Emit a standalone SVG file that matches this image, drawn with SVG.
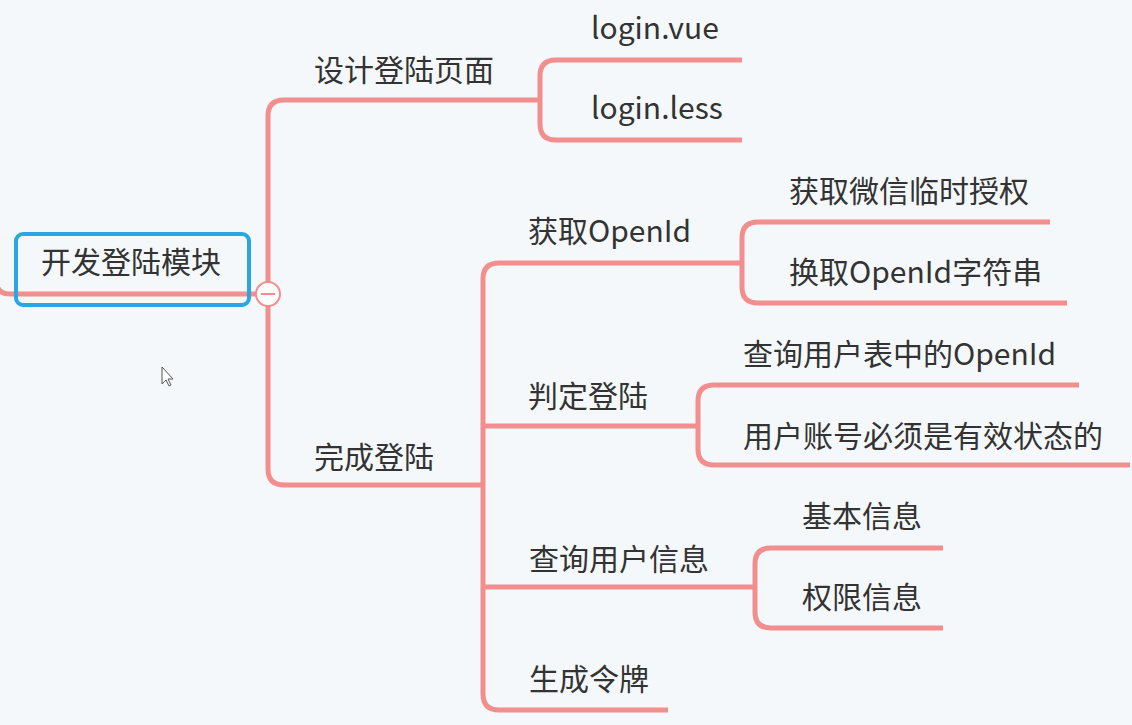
<svg xmlns="http://www.w3.org/2000/svg" width="1132" height="725" viewBox="0 0 1132 725">
<style>
.bg{fill:#f5f8fa}
.br{fill:none;stroke:#f28e8e;stroke-width:5;stroke-linecap:butt;stroke-linejoin:round}
.t{font-family:"Noto Sans CJK SC","Noto Sans",sans-serif;font-size:30px;fill:#333333}
.root{fill:none;stroke:#2aa7e3;stroke-width:4}
</style>
<rect class="bg" x="0" y="0" width="1132" height="725"/>
<g id="connectors">
<path class="br" d="M -4 240 V 280 Q -4 294 10 294 H 256"/>
<path class="br" d="M 268 282 V 116 Q 268 100 284 100 H 540"/>
<path class="br" d="M 268 306 V 469 Q 268 485 284 485 H 483"/>
<path class="br" d="M 742 60 H 556 Q 540 60 540 76 V 124 Q 540 140 556 140 H 742"/>
<path class="br" d="M 742 263 H 499 Q 483 263 483 279 V 694 Q 483 710 499 710 H 668"/>
<path class="br" d="M 483 426 H 698"/>
<path class="br" d="M 483 587 H 755"/>
<path class="br" d="M 1050 222 H 758 Q 742 222 742 238 V 287 Q 742 303 758 303 H 1067"/>
<path class="br" d="M 1079 385 H 714 Q 698 385 698 401 V 449 Q 698 465 714 465 H 1130"/>
<path class="br" d="M 943 548 H 771 Q 755 548 755 564 V 612 Q 755 628 771 628 H 943"/>
</g>
<g id="root">
<rect class="root" x="16" y="234" width="233" height="71" rx="7"/>
<text class="t" x="41" y="273">开发登陆模块</text>
</g>
<g id="collapse">
<circle cx="268" cy="294" r="12" fill="#ffffff" stroke="#f28e8e" stroke-width="2"/>
<line x1="261" y1="294" x2="275" y2="294" stroke="#f28e8e" stroke-width="2"/>
</g>
<g id="n-design"><text class="t" x="314" y="81">设计登陆页面</text></g>
<g id="n-loginvue"><text class="t" x="591" y="39">login.vue</text></g>
<g id="n-loginless"><text class="t" x="591" y="119">login.less</text></g>
<g id="n-finish"><text class="t" x="314" y="468">完成登陆</text></g>
<g id="n-openid"><text class="t" x="528" y="242">获取OpenId</text></g>
<g id="n-wxauth"><text class="t" x="789" y="202">获取微信临时授权</text></g>
<g id="n-openidstr"><text class="t" x="789" y="283">换取OpenId字符串</text></g>
<g id="n-judge"><text class="t" x="528" y="407">判定登陆</text></g>
<g id="n-queryopenid"><text class="t" x="743" y="365">查询用户表中的OpenId</text></g>
<g id="n-valid"><text class="t" x="743" y="447">用户账号必须是有效状态的</text></g>
<g id="n-userinfo"><text class="t" x="529" y="570">查询用户信息</text></g>
<g id="n-basic"><text class="t" x="802" y="527">基本信息</text></g>
<g id="n-perm"><text class="t" x="802" y="608">权限信息</text></g>
<g id="n-token"><text class="t" x="529" y="690">生成令牌</text></g>
<polygon points="162,367 162,384 166,380 169,386 171,385 168,379 173,379" fill="#ffffff" stroke="#555555" stroke-width="1"/>
</svg>
